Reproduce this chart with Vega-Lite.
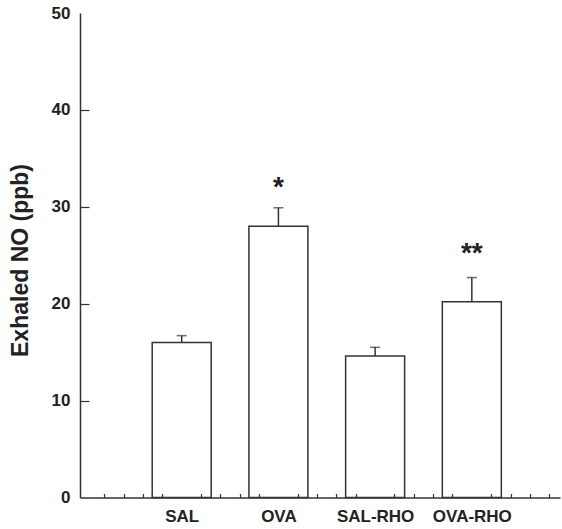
{
  "$schema": "https://vega.github.io/schema/vega-lite/v6.json",
  "width": 480,
  "height": 484.5,
  "autosize": "none",
  "padding": {"left": 80, "top": 13, "right": 2, "bottom": 31.5},
  "background": "white",
  "config": {"view": {"stroke": null}, "font": "Liberation Sans"},
  "data": {
    "values": [
      {"group": "SAL", "pos": 1, "mean": 16.0, "upper": 16.7},
      {"group": "OVA", "pos": 2, "mean": 28.0, "upper": 29.9, "sig": "*", "sig_y": 31.1},
      {"group": "SAL-RHO", "pos": 3, "mean": 14.6, "upper": 15.5},
      {"group": "OVA-RHO", "pos": 4, "mean": 20.2, "upper": 22.7, "sig": "**", "sig_y": 24.3}
    ]
  },
  "encoding": {
    "x": {
      "field": "pos",
      "type": "quantitative",
      "scale": {"domain": [0, 4.86], "nice": false, "zero": false},
      "axis": {
        "values": [0.2, 0.4, 0.6, 0.8, 1, 1.2, 1.4, 1.6, 1.8, 2, 2.2, 2.4, 2.6, 2.8, 3, 3.2, 3.4, 3.6, 3.8, 4, 4.2, 4.4, 4.6, 4.8],
        "tickSize": -4,
        "tickWidth": 1.2,
        "tickColor": {"condition": {"test": "abs(datum.value - round(datum.value)) < 0.01", "value": "transparent"}, "value": "#333"},
        "labelExpr": "abs(datum.value-1)<0.01 ? 'SAL' : abs(datum.value-2)<0.01 ? 'OVA' : abs(datum.value-3)<0.01 ? 'SAL-RHO' : abs(datum.value-4)<0.01 ? 'OVA-RHO' : ''",
        "labelFontSize": 17,
        "labelFontWeight": "bold",
        "labelColor": "#222",
        "labelPadding": 15,
        "labelOverlap": false,
        "labelFlush": false,
        "domainColor": "#333",
        "domainWidth": 1.5,
        "grid": false,
        "title": null,
        "zindex": 1
      }
    }
  },
  "layer": [
    {
      "mark": {"type": "bar", "orient": "vertical", "width": 59, "fill": "white", "stroke": "#333", "strokeWidth": 1.5},
      "encoding": {
        "y": {
          "field": "mean",
          "type": "quantitative",
          "title": "Exhaled NO (ppb)",
          "scale": {"domain": [0, 50], "nice": false},
          "axis": {
            "values": [0, 10, 20, 30, 40, 50],
            "tickSize": -9,
            "tickWidth": 1.2,
            "tickColor": {"condition": {"test": "datum.value == 0 || datum.value == 50", "value": "transparent"}, "value": "#333"},
            "labelFontSize": 17,
            "labelFontWeight": "bold",
            "labelColor": "#222",
            "labelPadding": 19,
            "domainColor": "#333",
            "domainWidth": 1.5,
            "grid": false,
            "titleFontSize": 23,
            "titleFontWeight": "bold",
            "titleColor": "#222",
            "titleAngle": -90,
            "titleX": -53,
            "titleY": 247,
            "titleAlign": "center",
            "titleBaseline": "alphabetic",
            "zindex": 1
          }
        }
      }
    },
    {
      "mark": {"type": "rule", "color": "#333", "strokeWidth": 1.5},
      "encoding": {
        "y": {"field": "mean", "type": "quantitative", "title": "Exhaled NO (ppb)"},
        "y2": {"field": "upper"}
      }
    },
    {
      "mark": {"type": "tick", "orient": "horizontal", "size": 10, "thickness": 1.5, "color": "#333"},
      "encoding": {
        "y": {"field": "upper", "type": "quantitative", "title": "Exhaled NO (ppb)"}
      }
    },
    {
      "transform": [{"filter": "datum.sig != null"}],
      "mark": {"type": "text", "fontSize": 28, "fontWeight": "bold", "baseline": "alphabetic", "align": "center", "color": "#222"},
      "encoding": {
        "y": {"field": "sig_y", "type": "quantitative", "title": "Exhaled NO (ppb)"},
        "text": {"field": "sig"}
      }
    }
  ]
}
